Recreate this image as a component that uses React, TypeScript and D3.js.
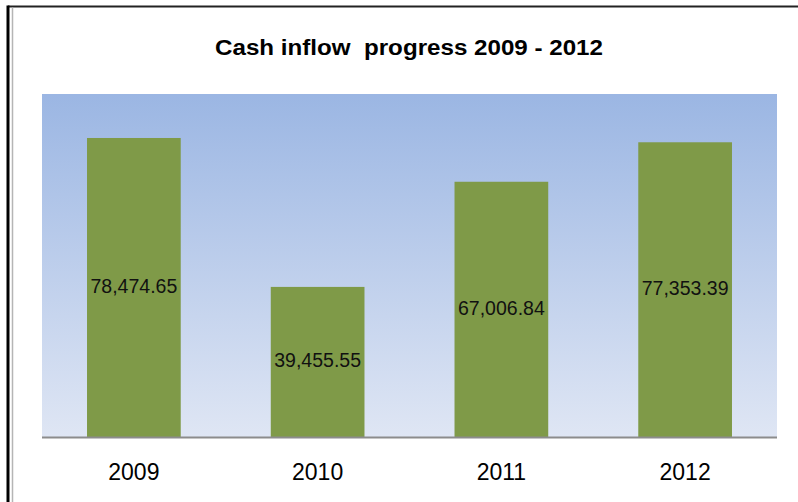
import React from "react";
import * as d3 from "d3";

const categories = ["2009", "2010", "2011", "2012"];
const values = [78474.65, 39455.55, 67006.84, 77353.39];
const valueLabels = ["78,474.65", "39,455.55", "67,006.84", "77,353.39"];
const yMax = 90000;
const title = "Cash inflow  progress 2009 - 2012";

export default function App() {
  const W = 798;
  const H = 502;
  const plot = { left: 42, right: 777, top: 94, bottom: 437.5 };
  const x = d3
    .scaleBand<string>()
    .domain(categories)
    .range([plot.left, plot.right])
    .paddingInner(0.49)
    .paddingOuter(0.245);
  const y = d3.scaleLinear().domain([0, yMax]).range([plot.bottom, plot.top]);
  const font = "'Liberation Sans', Arial, sans-serif";

  return (
    <svg
      width={W}
      height={H}
      style={{ position: "absolute", left: 0, top: 0, background: "#fff" }}
    >
      <defs>
        <linearGradient id="bg" x1="0" y1="0" x2="0" y2="1">
          <stop offset="0" stopColor="#9bb6e3" />
          <stop offset="1" stopColor="#dfe6f4" />
        </linearGradient>
      </defs>
      {/* outer borders */}
      <line x1={8} y1={6.5} x2={W} y2={6.5} stroke="#222" strokeWidth={2} />
      <line x1={8} y1={5.5} x2={8} y2={H} stroke="#000" strokeWidth={3} />
      <line x1={12.5} y1={7.5} x2={12.5} y2={H} stroke="#b5b5b5" strokeWidth={1.5} />
      {/* plot area */}
      <rect
        x={plot.left}
        y={plot.top}
        width={plot.right - plot.left}
        height={plot.bottom - plot.top}
        fill="url(#bg)"
      />
      {/* title */}
      <text
        x={409}
        y={55}
        textAnchor="middle"
        fontFamily={font}
        fontWeight="bold"
        fontSize={21.5}
        textLength={388}
        lengthAdjust="spacingAndGlyphs"
        fill="#000"
        style={{ whiteSpace: "pre" }}
        xmlSpace="preserve"
      >
        {title}
      </text>
      {/* bars */}
      {categories.map((c, i) => (
        <rect
          key={c}
          x={x(c)}
          y={y(values[i])}
          width={x.bandwidth()}
          height={y(0) - y(values[i])}
          fill="#7f9a48"
        />
      ))}
      {/* value labels */}
      {categories.map((c, i) => (
        <text
          key={"l" + c}
          x={(x(c) as number) + x.bandwidth() / 2}
          y={(y(values[i]) + y(0)) / 2 + 5}
          textAnchor="middle"
          fontFamily={font}
          fontSize={19.5}
          fill="#111"
        >
          {valueLabels[i]}
        </text>
      ))}
      {/* axis line */}
      <line
        x1={plot.left}
        x2={plot.right}
        y1={plot.bottom}
        y2={plot.bottom}
        stroke="#8c8c8c"
        strokeWidth={2}
      />
      {/* category labels */}
      {categories.map((c) => (
        <text
          key={"c" + c}
          x={(x(c) as number) + x.bandwidth() / 2}
          y={480}
          textAnchor="middle"
          fontFamily={font}
          fontSize={23}
          fill="#000"
        >
          {c}
        </text>
      ))}
    </svg>
  );
}
